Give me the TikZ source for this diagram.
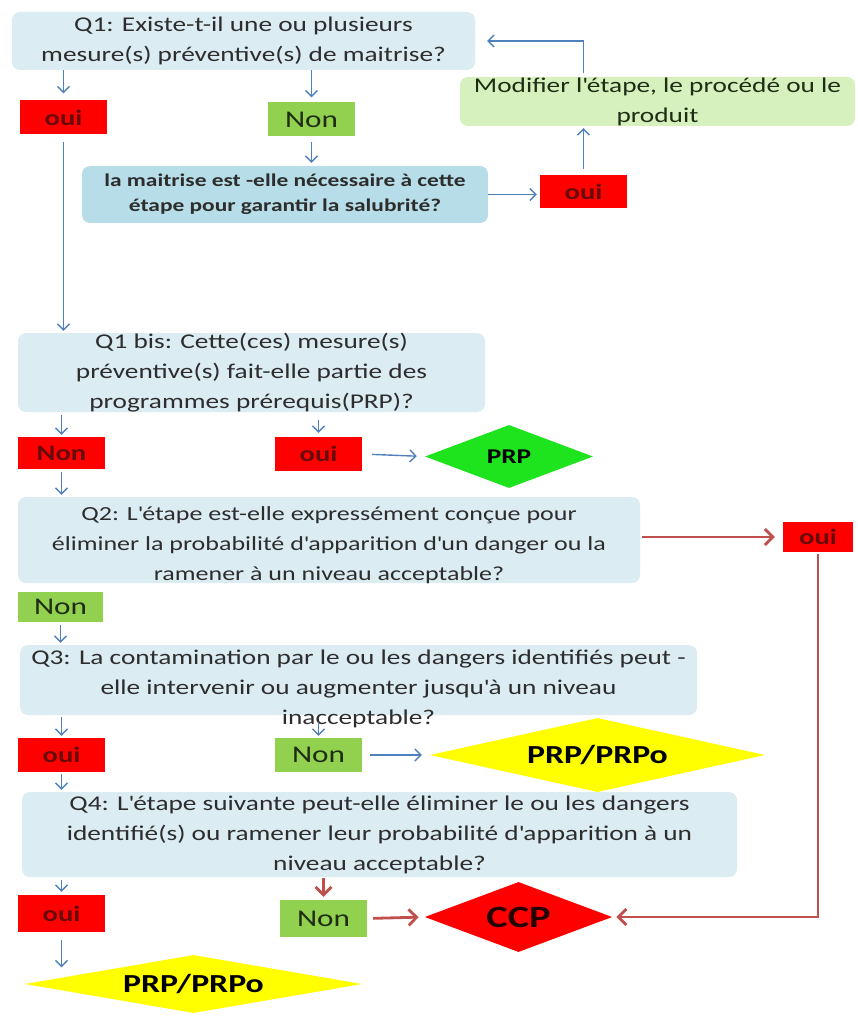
\documentclass[tikz,border=0pt]{standalone}
\usepackage{fontspec}
\setmainfont{Carlito}[FakeStretch=1.3]
\usetikzlibrary{arrows.meta,shapes.geometric}
\definecolor{qblue}{RGB}{219,236,242}
\definecolor{sblue}{RGB}{183,221,232}
\definecolor{mgreen}{RGB}{214,241,190}
\definecolor{ngreen}{RGB}{146,208,80}
\definecolor{ored}{RGB}{255,0,0}
\definecolor{dgreen}{RGB}{30,228,30}
\definecolor{dyellow}{RGB}{255,255,0}
\definecolor{qtext}{RGB}{45,45,45}
\definecolor{otext}{RGB}{105,10,10}
\definecolor{ntext}{RGB}{30,45,20}
\definecolor{ablue}{RGB}{79,129,189}
\definecolor{ared}{RGB}{192,80,77}
\newcommand{\ap}{\textquotesingle}
\tikzset{
  qtxt/.style   ={align=center, inner sep=0pt, text=qtext, font=\fontsize{21}{30}\selectfont},
  qbox/.style   ={qtxt, fill=qblue, rounded corners=8pt},
  sbox/.style   ={qbox, fill=sblue, font=\bfseries\fontsize{18}{25}\selectfont},
  mbox/.style   ={qbox, fill=mgreen, text=ntext},
  ouibox/.style ={fill=ored, inner sep=0pt, minimum width=87pt, minimum height=34pt,
                  text=otext, font=\bfseries\fontsize{22}{22}\selectfont},
  nonbox/.style ={ouibox, fill=ngreen, text=ntext, font=\fontsize{24}{24}\selectfont},
  dia/.style    ={diamond, inner sep=0pt, aspect=6, text=black,
                  font=\bfseries\fontsize{26}{26}\selectfont},
  ar/.style     ={-{Straight Barb[length=6pt,width=12pt]}, draw=ablue, line width=1.4pt},
  rar/.style    ={-{Straight Barb[length=8pt,width=16pt]}, draw=ared, line width=2.8pt},
}
\begin{document}
\begin{tikzpicture}[x=1pt,y=-1pt]
\useasboundingbox (0,0) rectangle (857,1016);
\node[qbox, minimum width=463pt, minimum height=58pt] (q1) at (243.5,41)
  {Q1: Existe-t-il une ou plusieurs\\mesure(s) préventive(s) de maitrise?};
\node[ouibox] (oui1) at (63.5,117.5) {oui};
\node[nonbox] (non1) at (311.5,119.5) {Non};
\node[sbox, minimum width=406pt, minimum height=57pt] (salub) at (285,194.5)
  {la maitrise est -elle nécessaire à cette\\étape pour garantir la salubrité?};
\node[ouibox, minimum height=33pt] (oui2) at (583.5,191.5) {oui};
\node[mbox, minimum width=395pt, minimum height=49pt] (modif) at (657.5,101.5)
  {Modifier l\ap étape, le procédé ou le\\produit};
\node[qbox, minimum width=467pt, minimum height=79pt] (q1b) at (251.5,372.5)
  {Q1 bis: Cette(ces) mesure(s)\\préventive(s) fait-elle partie des\\programmes prérequis(PRP)?};
\node[ouibox, minimum height=32pt] (non2) at (61.5,453) {Non};
\node[ouibox] (oui3) at (318.5,454) {oui};
\node[dia, fill=dgreen, minimum width=168pt, minimum height=63pt,
      font=\bfseries\fontsize{21}{21}\selectfont] (prp) at (509,456.5) {PRP};
\node[qbox, minimum width=622pt, minimum height=86pt] (q2) at (329,540) {};
\node[qtxt, font=\fontsize{20}{30}\selectfont] (q2t) at (329,545)
  {Q2: L\ap étape est-elle expressément conçue pour\\éliminer la probabilité d\ap apparition d\ap un danger ou la\\ramener à un niveau acceptable?};
\node[ouibox, minimum width=70pt, minimum height=30pt] (oui4) at (818,537) {oui};
\node[nonbox, minimum width=85pt, minimum height=30pt] (non3) at (60.5,607) {Non};
\node[qbox, minimum width=677pt, minimum height=70pt] (q3) at (358.5,680) {};
\node[qtxt] (q3t) at (358.5,689)
  {Q3: La contamination par le ou les dangers identifiés peut -\\elle intervenir ou augmenter jusqu\ap à un niveau\\inacceptable?};
\node[ouibox] (oui5) at (61.5,755) {oui};
\node[nonbox] (non4) at (318.5,755) {Non};
\node[dia, fill=dyellow, minimum width=335pt, minimum height=74pt] (prpo1) at (597.5,755) {PRP/PRPo};
\node[qbox, minimum width=715pt, minimum height=85pt] (q4) at (379.5,834.5)
  {Q4: L\ap étape suivante peut-elle éliminer le ou les dangers\\identifié(s) ou ramener leur probabilité d\ap apparition à un\\niveau acceptable?};
\node[ouibox, minimum height=37pt] (oui6) at (61.5,913.5) {oui};
\node[nonbox, minimum height=37pt] (non5) at (323.5,918.5) {Non};
\node[dia, fill=ored, minimum width=187pt, minimum height=70pt, text=black!85!red,
      font=\bfseries\fontsize{31}{31}\selectfont] (ccp) at (518.5,917) {CCP};
\node[dia, fill=dyellow, minimum width=337pt, minimum height=58pt] (prpo2) at (193.5,984) {PRP/PRPo};
\draw[ar, shorten >=7pt] (q1.south -| oui1) -- (oui1.north);
\draw[ar, shorten >=5pt] (q1.south -| non1) -- (non1.north);
\draw[ar, shorten <=5pt, shorten >=3pt] (non1.south) -- (salub.north -| non1);
\draw[ar, shorten >=3pt] (salub.east) -- (salub.east -| oui2.west);
\draw[ar, shorten <=6pt, shorten >=2pt] (oui2.north) -- (modif.south -| oui2);
\draw[ar, shorten <=4pt, shorten >=12pt] (modif.north -| oui2) |- (q1.east);
\draw[ar, shorten <=7pt, shorten >=2pt] (oui1.south) -- (q1b.north -| oui1);
\draw[ar, shorten <=3pt, shorten >=2pt] (q1b.south -| non2) -- (non2.north);
\draw[ar, shorten <=8pt, shorten >=4pt] (q1b.south -| oui3) -- (oui3.north);
\draw[ar, shorten <=10pt, shorten >=8pt] (oui3.east) -- (prp.west);
\draw[ar, shorten <=3pt, shorten >=2pt] (non2.south) -- (q2.north -| non2);
\draw[rar, shorten <=2pt, shorten >=8pt] (q2.east |- oui4) -- (oui4.west);
\draw[rar, shorten <=2pt, shorten >=4pt] (oui4.south) |- (ccp.east);
\draw[ar, shorten <=3pt, shorten >=2pt] (non3.south) -- (q3.north -| non3);
\draw[ar, shorten <=2pt, shorten >=2pt] (q3.south -| oui5) -- (oui5.north);
\draw[ar, shorten <=7pt, shorten >=2pt] (q3.south -| non4) -- (non4.north);
\draw[ar, shorten <=8pt, shorten >=8pt] (non4.east) -- (prpo1.west);
\draw[ar, shorten <=2pt, shorten >=2pt] (oui5.south) -- (q4.north -| oui5);
\draw[ar, shorten <=3pt, shorten >=3pt] (q4.south -| oui6) -- (oui6.north);
\draw[rar, shorten <=1pt, shorten >=3pt] (q4.south -| non5) -- (non5.north);
\draw[rar, shorten <=6pt, shorten >=6pt] (non5.east) -- (ccp.west);
\draw[ar, shorten <=8pt, shorten >=2pt] (oui6.south) -- (oui6.south |- prpo2.north west);
\end{tikzpicture}
\end{document}
